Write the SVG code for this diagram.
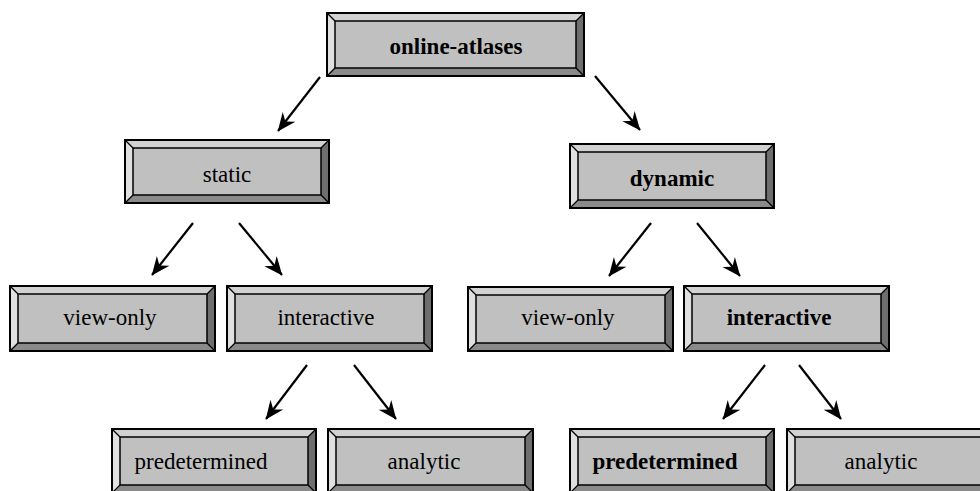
<svg xmlns="http://www.w3.org/2000/svg" width="980" height="491" viewBox="0 0 980 491">
<defs>
<style>
.face{fill:#c0c0c0}
.bt{fill:#d2d2d2}
.bl{fill:#e0e0e0}
.bb{fill:#8a8a8a}
.br{fill:#6e6e6e}
.ol{fill:none;stroke:#000;stroke-width:2}
.il{fill:none;stroke:#000;stroke-width:1.5}
.dg{stroke:#000;stroke-width:1.2}
.t{font-family:'Liberation Serif','DejaVu Serif',serif;font-size:23px;fill:#000;text-anchor:middle}
.b{font-weight:bold}
.ln{stroke:#000;stroke-width:2.2;marker-end:url(#ah)}
</style>
<marker id="ah" viewBox="-19 -9 20 18" refX="0" refY="0" markerWidth="20" markerHeight="18" markerUnits="userSpaceOnUse" orient="auto">
<path d="M0.5,0 L-18,-8 L-12,0 L-18,8 Z" fill="#000"/>
</marker>
</defs>
<rect width="980" height="491" fill="#fff"/>

<g id="online-atlases" transform="translate(327,13)">
<rect class="face" x="0" y="0" width="257" height="63"/>
<polygon class="bt" points="0,0 257,0 249,8 8,8"/>
<polygon class="bl" points="0,0 8,8 8,55 0,63"/>
<polygon class="bb" points="0,63 8,55 249,55 257,63"/>
<polygon class="br" points="257,0 257,63 249,55 249,8"/>
<line class="dg" x1="0" y1="0" x2="8" y2="8"/><line class="dg" x1="257" y1="0" x2="249" y2="8"/><line class="dg" x1="0" y1="63" x2="8" y2="55"/><line class="dg" x1="257" y1="63" x2="249" y2="55"/>
<rect class="il" x="8" y="8" width="241" height="47"/>
<rect class="ol" x="0" y="0" width="257" height="63"/>
<text class="t b" x="129" y="41">online-atlases</text>
</g>

<g id="static" transform="translate(125,140)">
<rect class="face" x="0" y="0" width="204" height="63"/>
<polygon class="bt" points="0,0 204,0 196,8 8,8"/>
<polygon class="bl" points="0,0 8,8 8,55 0,63"/>
<polygon class="bb" points="0,63 8,55 196,55 204,63"/>
<polygon class="br" points="204,0 204,63 196,55 196,8"/>
<line class="dg" x1="0" y1="0" x2="8" y2="8"/><line class="dg" x1="204" y1="0" x2="196" y2="8"/><line class="dg" x1="0" y1="63" x2="8" y2="55"/><line class="dg" x1="204" y1="63" x2="196" y2="55"/>
<rect class="il" x="8" y="8" width="188" height="47"/>
<rect class="ol" x="0" y="0" width="204" height="63"/>
<text class="t" x="102" y="42">static</text>
</g>

<g id="dynamic" transform="translate(570,144)">
<rect class="face" x="0" y="0" width="204" height="64"/>
<polygon class="bt" points="0,0 204,0 196,8 8,8"/>
<polygon class="bl" points="0,0 8,8 8,56 0,64"/>
<polygon class="bb" points="0,64 8,56 196,56 204,64"/>
<polygon class="br" points="204,0 204,64 196,56 196,8"/>
<line class="dg" x1="0" y1="0" x2="8" y2="8"/><line class="dg" x1="204" y1="0" x2="196" y2="8"/><line class="dg" x1="0" y1="64" x2="8" y2="56"/><line class="dg" x1="204" y1="64" x2="196" y2="56"/>
<rect class="il" x="8" y="8" width="188" height="48"/>
<rect class="ol" x="0" y="0" width="204" height="64"/>
<text class="t b" x="102" y="42">dynamic</text>
</g>

<g id="view-only-1" transform="translate(10,286)">
<rect class="face" x="0" y="0" width="205" height="65"/>
<polygon class="bt" points="0,0 205,0 197,8 8,8"/>
<polygon class="bl" points="0,0 8,8 8,57 0,65"/>
<polygon class="bb" points="0,65 8,57 197,57 205,65"/>
<polygon class="br" points="205,0 205,65 197,57 197,8"/>
<line class="dg" x1="0" y1="0" x2="8" y2="8"/><line class="dg" x1="205" y1="0" x2="197" y2="8"/><line class="dg" x1="0" y1="65" x2="8" y2="57"/><line class="dg" x1="205" y1="65" x2="197" y2="57"/>
<rect class="il" x="8" y="8" width="189" height="49"/>
<rect class="ol" x="0" y="0" width="205" height="65"/>
<text class="t" x="100" y="39">view-only</text>
</g>

<g id="interactive-1" transform="translate(227,286)">
<rect class="face" x="0" y="0" width="205" height="65"/>
<polygon class="bt" points="0,0 205,0 197,8 8,8"/>
<polygon class="bl" points="0,0 8,8 8,57 0,65"/>
<polygon class="bb" points="0,65 8,57 197,57 205,65"/>
<polygon class="br" points="205,0 205,65 197,57 197,8"/>
<line class="dg" x1="0" y1="0" x2="8" y2="8"/><line class="dg" x1="205" y1="0" x2="197" y2="8"/><line class="dg" x1="0" y1="65" x2="8" y2="57"/><line class="dg" x1="205" y1="65" x2="197" y2="57"/>
<rect class="il" x="8" y="8" width="189" height="49"/>
<rect class="ol" x="0" y="0" width="205" height="65"/>
<text class="t" x="99" y="39">interactive</text>
</g>

<g id="view-only-2" transform="translate(468,287)">
<rect class="face" x="0" y="0" width="205" height="64"/>
<polygon class="bt" points="0,0 205,0 197,8 8,8"/>
<polygon class="bl" points="0,0 8,8 8,56 0,64"/>
<polygon class="bb" points="0,64 8,56 197,56 205,64"/>
<polygon class="br" points="205,0 205,64 197,56 197,8"/>
<line class="dg" x1="0" y1="0" x2="8" y2="8"/><line class="dg" x1="205" y1="0" x2="197" y2="8"/><line class="dg" x1="0" y1="64" x2="8" y2="56"/><line class="dg" x1="205" y1="64" x2="197" y2="56"/>
<rect class="il" x="8" y="8" width="189" height="48"/>
<rect class="ol" x="0" y="0" width="205" height="64"/>
<text class="t" x="100" y="38">view-only</text>
</g>

<g id="interactive-2" transform="translate(684,286)">
<rect class="face" x="0" y="0" width="205" height="65"/>
<polygon class="bt" points="0,0 205,0 197,8 8,8"/>
<polygon class="bl" points="0,0 8,8 8,57 0,65"/>
<polygon class="bb" points="0,65 8,57 197,57 205,65"/>
<polygon class="br" points="205,0 205,65 197,57 197,8"/>
<line class="dg" x1="0" y1="0" x2="8" y2="8"/><line class="dg" x1="205" y1="0" x2="197" y2="8"/><line class="dg" x1="0" y1="65" x2="8" y2="57"/><line class="dg" x1="205" y1="65" x2="197" y2="57"/>
<rect class="il" x="8" y="8" width="189" height="49"/>
<rect class="ol" x="0" y="0" width="205" height="65"/>
<text class="t b" x="95" y="39">interactive</text>
</g>

<g id="predetermined-1" transform="translate(112,429)">
<rect class="face" x="0" y="0" width="204" height="64"/>
<polygon class="bt" points="0,0 204,0 196,8 8,8"/>
<polygon class="bl" points="0,0 8,8 8,56 0,64"/>
<polygon class="bb" points="0,64 8,56 196,56 204,64"/>
<polygon class="br" points="204,0 204,64 196,56 196,8"/>
<line class="dg" x1="0" y1="0" x2="8" y2="8"/><line class="dg" x1="204" y1="0" x2="196" y2="8"/><line class="dg" x1="0" y1="64" x2="8" y2="56"/><line class="dg" x1="204" y1="64" x2="196" y2="56"/>
<rect class="il" x="8" y="8" width="188" height="48"/>
<rect class="ol" x="0" y="0" width="204" height="64"/>
<text class="t" x="89" y="40">predetermined</text>
</g>

<g id="analytic-1" transform="translate(328,429)">
<rect class="face" x="0" y="0" width="205" height="64"/>
<polygon class="bt" points="0,0 205,0 197,8 8,8"/>
<polygon class="bl" points="0,0 8,8 8,56 0,64"/>
<polygon class="bb" points="0,64 8,56 197,56 205,64"/>
<polygon class="br" points="205,0 205,64 197,56 197,8"/>
<line class="dg" x1="0" y1="0" x2="8" y2="8"/><line class="dg" x1="205" y1="0" x2="197" y2="8"/><line class="dg" x1="0" y1="64" x2="8" y2="56"/><line class="dg" x1="205" y1="64" x2="197" y2="56"/>
<rect class="il" x="8" y="8" width="189" height="48"/>
<rect class="ol" x="0" y="0" width="205" height="64"/>
<text class="t" x="96" y="40">analytic</text>
</g>

<g id="predetermined-2" transform="translate(570,429)">
<rect class="face" x="0" y="0" width="204" height="64"/>
<polygon class="bt" points="0,0 204,0 196,8 8,8"/>
<polygon class="bl" points="0,0 8,8 8,56 0,64"/>
<polygon class="bb" points="0,64 8,56 196,56 204,64"/>
<polygon class="br" points="204,0 204,64 196,56 196,8"/>
<line class="dg" x1="0" y1="0" x2="8" y2="8"/><line class="dg" x1="204" y1="0" x2="196" y2="8"/><line class="dg" x1="0" y1="64" x2="8" y2="56"/><line class="dg" x1="204" y1="64" x2="196" y2="56"/>
<rect class="il" x="8" y="8" width="188" height="48"/>
<rect class="ol" x="0" y="0" width="204" height="64"/>
<text class="t b" x="95" y="40">predetermined</text>
</g>

<g id="analytic-2" transform="translate(787,429)">
<rect class="face" x="0" y="0" width="205" height="64"/>
<polygon class="bt" points="0,0 205,0 197,8 8,8"/>
<polygon class="bl" points="0,0 8,8 8,56 0,64"/>
<polygon class="bb" points="0,64 8,56 197,56 205,64"/>
<polygon class="br" points="205,0 205,64 197,56 197,8"/>
<line class="dg" x1="0" y1="0" x2="8" y2="8"/><line class="dg" x1="205" y1="0" x2="197" y2="8"/><line class="dg" x1="0" y1="64" x2="8" y2="56"/><line class="dg" x1="205" y1="64" x2="197" y2="56"/>
<rect class="il" x="8" y="8" width="189" height="48"/>
<rect class="ol" x="0" y="0" width="205" height="64"/>
<text class="t" x="94" y="40">analytic</text>
</g>

<g id="connectors">
<line class="ln" x1="320" y1="77" x2="278" y2="131"/>
<line class="ln" x1="595" y1="76" x2="640" y2="130"/>
<line class="ln" x1="193" y1="223" x2="152" y2="275"/>
<line class="ln" x1="239" y1="223" x2="282" y2="275"/>
<line class="ln" x1="651" y1="223" x2="609" y2="276"/>
<line class="ln" x1="697" y1="223" x2="740" y2="276"/>
<line class="ln" x1="307" y1="365" x2="266" y2="419"/>
<line class="ln" x1="354" y1="365" x2="396" y2="419"/>
<line class="ln" x1="765" y1="365" x2="723" y2="419"/>
<line class="ln" x1="799" y1="365" x2="841" y2="419"/>
</g>
</svg>
